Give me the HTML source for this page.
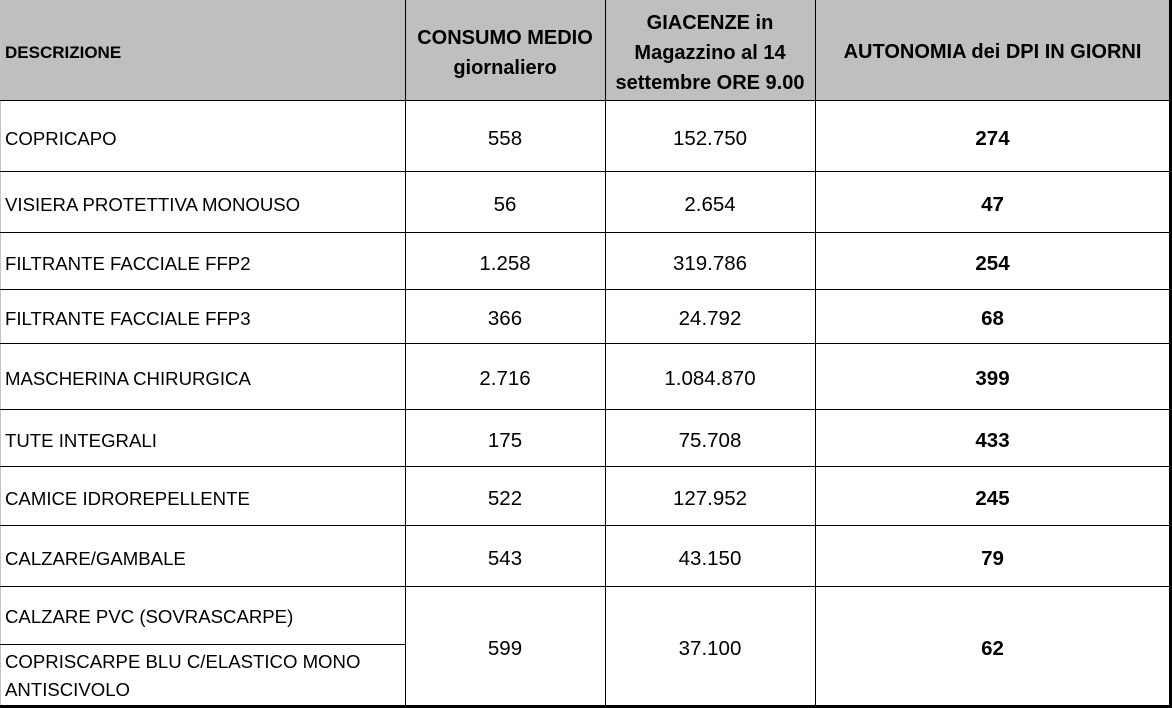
<!DOCTYPE html>
<html>
<head>
<meta charset="utf-8">
<style>
  html,body{margin:0;padding:0;}
  body{width:1172px;height:708px;position:relative;overflow:hidden;background:#fff;
       font-family:"Liberation Sans",Arial,sans-serif;color:#000;}
  .abs{position:absolute;}
  .hdr{position:absolute;left:0;top:0;width:1170px;height:100px;background:#bfbfbf;}
  .h{position:absolute;font-weight:bold;font-size:20px;line-height:30px;text-align:center;white-space:nowrap;}
  .hl{position:absolute;height:1px;background:#000;}
  .vl{position:absolute;width:1px;background:#000;}
  .cell{position:absolute;display:flex;align-items:center;white-space:nowrap;box-sizing:border-box;padding-top:5px;}
  .d{left:5px;width:398px;font-size:18.6px;}
  .n1{left:405px;width:200px;justify-content:center;font-size:20.5px;}
  .n2{left:605px;width:210px;justify-content:center;font-size:20.5px;}
  .n3{left:815px;width:355px;justify-content:center;font-size:20.5px;font-weight:bold;}
</style>
</head>
<body>
<div class="hdr"></div>

<!-- header text -->
<div class="h" style="left:5px;top:38px;font-size:17px;text-align:left;">DESCRIZIONE</div>
<div class="h" style="left:405px;top:23px;width:200px;">CONSUMO MEDIO<br>giornaliero</div>
<div class="h" style="left:605px;top:8px;width:210px;">GIACENZE in<br>Magazzino al 14<br>settembre ORE 9.00</div>
<div class="h" style="left:815px;top:37px;width:355px;">AUTONOMIA dei DPI IN GIORNI</div>

<!-- left light border -->
<div class="abs" style="left:0;top:0;width:1px;height:706px;background:#c4c4c4;"></div>

<!-- horizontal lines -->
<div class="hl" style="left:0;top:100px;width:1170px;"></div>
<div class="hl" style="left:0;top:171px;width:1170px;"></div>
<div class="hl" style="left:0;top:232px;width:1170px;"></div>
<div class="hl" style="left:0;top:289px;width:1170px;"></div>
<div class="hl" style="left:0;top:343px;width:1170px;"></div>
<div class="hl" style="left:0;top:409px;width:1170px;"></div>
<div class="hl" style="left:0;top:466px;width:1170px;"></div>
<div class="hl" style="left:0;top:525px;width:1170px;"></div>
<div class="hl" style="left:0;top:586px;width:1170px;"></div>
<div class="hl" style="left:0;top:644px;width:405px;"></div>

<!-- vertical lines -->
<div class="vl" style="left:405px;top:0;height:706px;"></div>
<div class="vl" style="left:605px;top:0;height:706px;"></div>
<div class="vl" style="left:815px;top:0;height:706px;"></div>

<!-- outer thick borders -->
<div class="abs" style="left:1169px;top:0;width:3px;height:708px;background:#000;"></div>
<div class="abs" style="left:0;top:705px;width:1172px;height:3px;background:#000;"></div>

<!-- rows -->
<div class="cell d" style="top:101px;height:70px;">COPRICAPO</div>
<div class="cell n1" style="top:101px;height:70px;">558</div>
<div class="cell n2" style="top:101px;height:70px;">152.750</div>
<div class="cell n3" style="top:101px;height:70px;">274</div>

<div class="cell d" style="top:172px;height:60px;">VISIERA PROTETTIVA MONOUSO</div>
<div class="cell n1" style="top:172px;height:60px;">56</div>
<div class="cell n2" style="top:172px;height:60px;">2.654</div>
<div class="cell n3" style="top:172px;height:60px;">47</div>

<div class="cell d" style="top:233px;height:56px;">FILTRANTE FACCIALE FFP2</div>
<div class="cell n1" style="top:233px;height:56px;">1.258</div>
<div class="cell n2" style="top:233px;height:56px;">319.786</div>
<div class="cell n3" style="top:233px;height:56px;">254</div>

<div class="cell d" style="top:290px;height:53px;">FILTRANTE FACCIALE FFP3</div>
<div class="cell n1" style="top:290px;height:53px;">366</div>
<div class="cell n2" style="top:290px;height:53px;">24.792</div>
<div class="cell n3" style="top:290px;height:53px;">68</div>

<div class="cell d" style="top:344px;height:65px;">MASCHERINA CHIRURGICA</div>
<div class="cell n1" style="top:344px;height:65px;">2.716</div>
<div class="cell n2" style="top:344px;height:65px;">1.084.870</div>
<div class="cell n3" style="top:344px;height:65px;">399</div>

<div class="cell d" style="top:410px;height:56px;">TUTE INTEGRALI</div>
<div class="cell n1" style="top:410px;height:56px;">175</div>
<div class="cell n2" style="top:410px;height:56px;">75.708</div>
<div class="cell n3" style="top:410px;height:56px;">433</div>

<div class="cell d" style="top:467px;height:58px;">CAMICE IDROREPELLENTE</div>
<div class="cell n1" style="top:467px;height:58px;">522</div>
<div class="cell n2" style="top:467px;height:58px;">127.952</div>
<div class="cell n3" style="top:467px;height:58px;">245</div>

<div class="cell d" style="top:526px;height:60px;">CALZARE/GAMBALE</div>
<div class="cell n1" style="top:526px;height:60px;">543</div>
<div class="cell n2" style="top:526px;height:60px;">43.150</div>
<div class="cell n3" style="top:526px;height:60px;">79</div>

<div class="cell d" style="top:587px;height:57px;padding-top:2px;">CALZARE PVC (SOVRASCARPE)</div>
<div class="abs" style="left:5px;top:648px;font-size:18.6px;line-height:28px;white-space:nowrap;">COPRISCARPE BLU C/ELASTICO MONO<br>ANTISCIVOLO</div>
<div class="cell n1" style="top:587px;height:118px;">599</div>
<div class="cell n2" style="top:587px;height:118px;">37.100</div>
<div class="cell n3" style="top:587px;height:118px;">62</div>

</body>
</html>
